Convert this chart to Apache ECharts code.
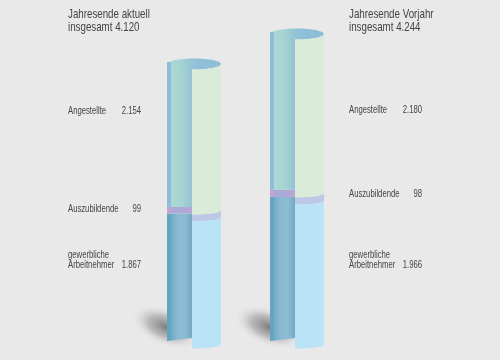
<!DOCTYPE html>
<html><head><meta charset="utf-8">
<style>html,body{margin:0;padding:0;background:#e9e9e9}#c{width:500px;height:360px}</style>
<script src="https://cdn.jsdelivr.net/npm/echarts@6/dist/echarts.min.js"></script>
</head><body><div id="c"></div>
<script>
const columnNames = ['Jahresende aktuell', 'Jahresende Vorjahr'];
const totals = [4120, 4244];
const gewerbliche = [1867, 1966];
const auszubildende = [99, 98];
const angestellte = [2154, 2180];
const fmt = v => v >= 1000 ? Math.floor(v / 1000) + '.' + String(v % 1000).padStart(3, '0') : String(v);

const FONT = '"Liberation Sans",sans-serif';
const TXT = '#444444';
const lin = (stops) => ({type:'linear',x:0,y:0,x2:1,y2:0,colorStops:stops.map((c,i)=>({offset:i/(stops.length-1),color:c}))});
const SEG = [
  {strip:'#63a6c3', left:lin(['#72aac6','#8bbbd3','#8cbcd3','#72a9c2']), right:'#bbe3f8'},
  {strip:'#c4a4cf', left:lin(['#a9a9d9','#aaa9d8','#b9a7d4']), right:'#bcc8e6'},
  {strip:'#8fbcd8', left:lin(['#abdad3','#a6d4d3','#95c3d3']), right:'#d9ecd9'}
];

function sample(x0, x1, f){ const p=[]; for(let i=0;i<=24;i++){const x=x0+(x1-x0)*i/24; p.push([x,f(x)]);} return p; }

function renderItem(params, api){
  const start = api.value(1), end = api.value(2), seg = api.value(3);
  const c = api.coord([api.value(0), end]);
  const yTop = c[1], yBot = api.coord([api.value(0), start])[1];
  const w = api.size([1,0])[0];
  const L = c[0]-w/2, R = c[0]+w/2;
  const stripR = L+4, split = L+25, cx = L+27, rx = 27;
  const s = SEG[seg];
  const curve = x => { const t=(x-cx)/rx; return 3.5+4*Math.sqrt(Math.max(0,1-t*t)); };
  const children = [];
  if (seg === 0) {
    children.push({type:'circle', silent:true, rotation:-0.38, x:L-1, y:yBot-14, scaleX:1, scaleY:0.52,
      shape:{cx:0,cy:0,r:37},
      style:{fill:{type:'radial',x:0.5,y:0.5,r:0.5,colorStops:[{offset:0,color:'rgba(120,120,120,0.95)'},{offset:0.5,color:'rgba(165,165,165,0.7)'},{offset:1,color:'rgba(233,233,233,0)'}]}}});
  }
  const lowL = x => seg===0 ? yBot-3*(x-L)/(split-L) : yBot;
  const leftTop = seg===2 ? yTop+2 : yTop;
  children.push({type:'polygon',shape:{points:[[stripR,leftTop],[split,leftTop],...sample(split,stripR,lowL)]},style:{fill:s.left}});
  if (seg === 2) {
    children.push({type:'ellipse',shape:{cx:cx,cy:yTop+4,rx:rx,ry:5.5},
      style:{fill:{type:'linear',x:0,y:0,x2:1,y2:0,colorStops:[
        {offset:0,color:'#abdad3'},{offset:0.25,color:'#a6d4d3'},{offset:0.42,color:'#98c6d5'},{offset:0.6,color:'#8fbfd8'},{offset:1,color:'#8fbfd6'}]}}});
  }
  children.push({type:'polygon',shape:{points:[[L,leftTop],[stripR,leftTop],...sample(stripR,L,lowL)]},style:{fill:s.strip}});
  const topF = seg===2
    ? (x => { const t=(x-cx)/rx; return yTop+4+5.5*Math.sqrt(Math.max(0,1-t*t)); })
    : (x => yTop+curve(x));
  const botF = x => yBot+curve(x);
  children.push({type:'polygon',shape:{points:[...sample(split,R,topF),...sample(R,split,botF)]},style:{fill:s.right}});
  return {type:'group',children};
}

const yLayouts = [{top:60,height:281,left:167},{top:30,height:311,left:270}];
const grids = yLayouts.map(g=>({left:g.left,top:g.top,width:54,height:g.height,show:false,containLabel:false}));
const xAxes = columnNames.map((n,i)=>({type:'category',gridIndex:i,data:[n],show:false}));
const yAxes = totals.map((t,i)=>({type:'value',gridIndex:i,min:0,max:t,show:false}));
const series = columnNames.map((n,i)=>{
  const a=gewerbliche[i], b=auszubildende[i], d=angestellte[i];
  return {type:'custom',name:n,xAxisIndex:i,yAxisIndex:i,renderItem,clip:false,silent:true,
    encode:{x:0,y:[1,2]},
    data:[[0,0,a,0],[0,a,a+b,1],[0,a+b,a+b+d,2]]};
});

const text = (x,y,t,size,align,sx) => ({type:'text',x,y,scaleX:sx,silent:true,
  style:{text:t,fontFamily:FONT,fontSize:size,fill:TXT,align:align||'left',verticalAlign:'middle'}});
const labelX = [[68,141],[349,422]];
const graphicEls = [];
const titleY = [14,27];
const bandY = [[111,209,255,265],[110,194,255,265]];
const TS = 0.75, LS = 0.7;
columnNames.forEach((n,i)=>{
  const [lx,rx] = labelX[i];
  const [a,b,c,d] = bandY[i];
  graphicEls.push(text(lx,titleY[0],n,13,'left',TS), text(lx,titleY[1],'insgesamt '+fmt(totals[i]),13,'left',TS));
  graphicEls.push(text(lx,a,'Angestellte',11,'left',LS), text(rx,a,fmt(angestellte[i]),11,'right',LS));
  graphicEls.push(text(lx,b,'Auszubildende',11,'left',LS), text(rx,b,fmt(auszubildende[i]),11,'right',LS));
  graphicEls.push(text(lx,c,'gewerbliche',11,'left',LS), text(lx,d,'Arbeitnehmer',11,'left',LS), text(rx,d,fmt(gewerbliche[i]),11,'right',LS));
});

const chart = echarts.init(document.getElementById('c'),null,{renderer:'canvas'});
chart.setOption({animation:false,backgroundColor:'#e9e9e9',grid:grids,xAxis:xAxes,yAxis:yAxes,series,graphic:{elements:graphicEls}});
</script></body></html>
